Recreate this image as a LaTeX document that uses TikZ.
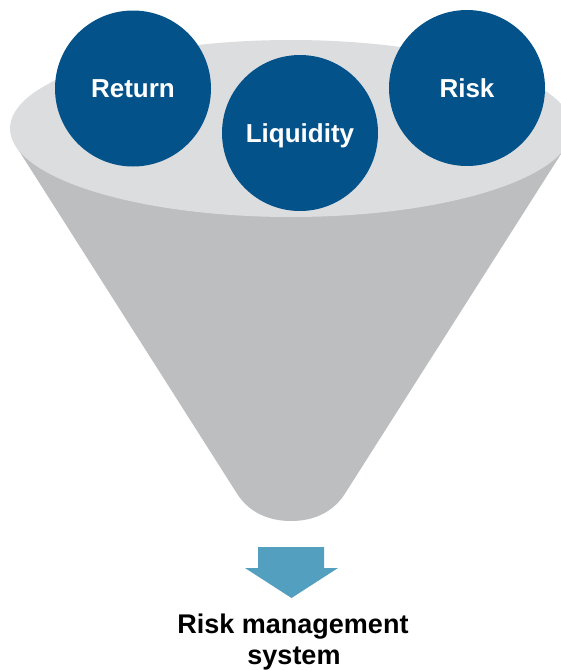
\documentclass[tikz,border=0pt]{standalone}
\usepackage{fontspec}
\setmainfont{Liberation Sans}
\definecolor{circblue}{HTML}{03528A}
\definecolor{arrowblue}{HTML}{529FBF}
\definecolor{topgray}{HTML}{DCDDDF}
\definecolor{conegray}{HTML}{BDBEC0}
\begin{document}
\begin{tikzpicture}[x=1pt,y=-1pt,
  bubble/.style={circle, fill=circblue, minimum size=156pt, inner sep=0pt,
    text=white, font=\bfseries\fontsize{26}{30}\selectfont,
    text height=18.6pt, text depth=0pt},
  caption/.style={anchor=base, inner sep=0pt, text=black,
    font=\bfseries\fontsize{27}{31}\selectfont}]
\useasboundingbox (0,0) rectangle (561,670);
\clip (0,0) rectangle (561,670);
% funnel cone
\fill[conegray] (14,143) -- (236,492)
  .. controls (248,512) and (268,521) .. (291,521)
  .. controls (314,521) and (334,512) .. (346,492)
  -- (568,143) -- cycle;
% funnel mouth
\fill[topgray] (291,128.5) ellipse [x radius=281, y radius=88.5];
% bubbles
\node[bubble] (ret) at (133,88.5) {Return};
\node[bubble] (liq) at (300,133) {Liquidity};
\node[bubble] (risk) at (467,88) {Risk};
% block arrow
\fill[arrowblue] (258,547) -- (324,547) -- (324,568) -- (338,568)
  -- (291.5,598) -- (245,568) -- (258,568) -- cycle;
% caption
\node[caption] (sysa) at (293,633) {Risk management};
\node[caption] (sysb) at (294,664) {system};
\end{tikzpicture}
\end{document}
